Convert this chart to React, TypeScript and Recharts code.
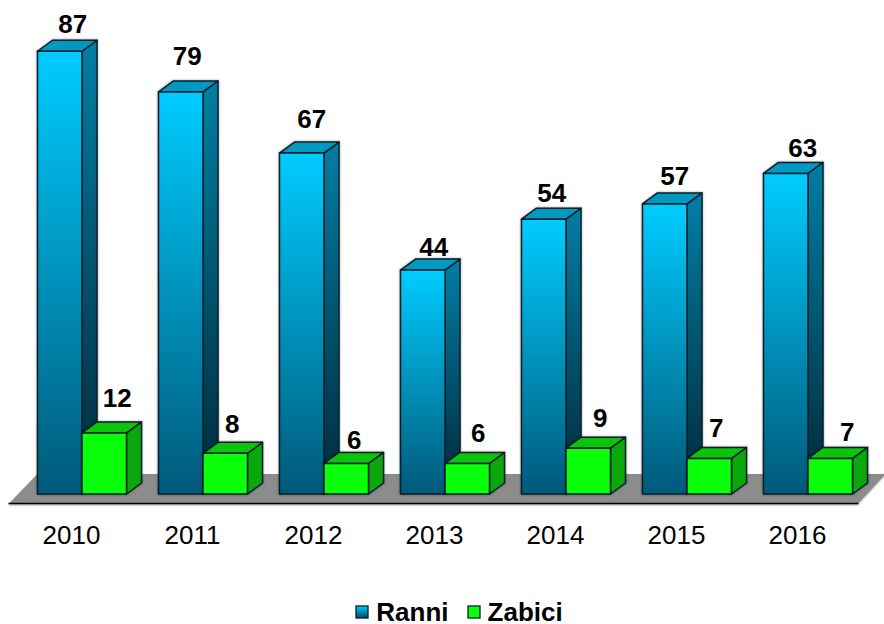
import React from "react";
import { BarChart, Bar, XAxis, YAxis, Legend, LabelList, usePlotArea } from "recharts";

const years = ["2010", "2011", "2012", "2013", "2014", "2015", "2016"];
const ranni = [87, 79, 67, 44, 54, 57, 63];
const zabici = [12, 8, 6, 6, 9, 7, 7];

// Hand-placed label nudges seen in the reference (from bar centre / bar top)
const ranniLabelDx = [13, 6.5, 10, 11, 8, 10, 17];
const ranniLabelDy = [-27, -36, -34, -23, -26, -28, -25];
const zabiciLabelDx = [13, 7, 8, 11, 12, 7, 17];
const zabiciLabelDy = [-35, -29, -23, -30, -30, -30, -26];

const data = years.map((year, i) => ({ year, Ranni: ranni[i], Zabici: zabici[i] }));

const FONT = "'Liberation Sans', Arial, sans-serif";
const DEPTH_X = 15;
const DEPTH_Y = 11;
const EDGE = "#06202a";

const Box = (props: any) => {
  const { x, y, width: w, height: h, front, side, top } = props;
  const d = DEPTH_X;
  const e = DEPTH_Y;
  return (
    <g stroke={EDGE} strokeWidth={1.5} strokeLinejoin="round" style={{ filter: "drop-shadow(0 0 1.2px rgba(0,0,0,0.45))" }}>
      <polygon points={`${x + w},${y} ${x + w + d},${y - e} ${x + w + d},${y + h - e} ${x + w},${y + h}`} fill={side} />
      <polygon points={`${x},${y} ${x + d},${y - e} ${x + w + d},${y - e} ${x + w},${y}`} fill={top} />
      <rect x={x} y={y} width={w} height={h} fill={front} />
    </g>
  );
};

const Floor = () => {
  const p = usePlotArea();
  if (!p) return null;
  const base = p.y + p.height;
  const l = p.x;
  return (
    <g style={{ filter: "drop-shadow(0 1px 1px rgba(0,0,0,0.35))" }}>
      <polygon
        points={`${l - 12},${base + 9} ${l + 16},${base - 20} ${l + 864},${base - 20} ${l + 837},${base + 9}`}
        fill="#8c8c8c"
      />
      <line x1={l - 13} y1={base + 9.5} x2={l + 837} y2={base + 9.5} stroke="#000" strokeWidth={1.5} />
    </g>
  );
};

const makeLabel = (dxs: number[], dys: number[]) => (props: any) => {
  const { x, y, width, value, index } = props;
  return (
    <text
      x={x + width / 2 + dxs[index]}
      y={y + dys[index]}
      textAnchor="middle"
      dominantBaseline="central"
      fontFamily={FONT}
      fontWeight="bold"
      fontSize={26}
      fill="#000"
    >
      {value}
    </text>
  );
};

const YearTick = (props: any) => (
  <text x={props.x - 10.5} y={535} textAnchor="middle" dominantBaseline="central" fontFamily={FONT} fontSize={26} fill="#000">
    {props.payload.value}
  </text>
);

const legendItems = [
  { name: "Ranni", fill: "url(#legendBlue)" },
  { name: "Zabici", fill: "#0aff0a" },
];

const LegendContent = () => (
  <div
    style={{
      display: "flex",
      justifyContent: "center",
      alignItems: "center",
      gap: 18,
      fontFamily: FONT,
      fontWeight: "bold",
      fontSize: 26,
      color: "#000",
      height: 24,
      lineHeight: "24px",
      paddingLeft: 34,
      boxSizing: "border-box",
      width: 884,
    }}
  >
    {legendItems.map((it) => (
      <span key={it.name} style={{ display: "inline-flex", alignItems: "center", gap: 7 }}>
        <svg width={14} height={14} style={{ display: "block" }}>
          <rect x={1} y={1} width={12} height={12} fill={it.fill} stroke="#06202a" strokeWidth={1.3} />
        </svg>
        {it.name}
      </span>
    ))}
  </div>
);

export default function App() {
  return (
    <div style={{ position: "absolute", left: 0, top: 0, width: 884, height: 624 }}>
      <BarChart
        width={884}
        height={624}
        data={data}
        margin={{ top: 36, right: 15.5, bottom: 46, left: 21.5 }}
        barSize={44.5}
        barGap={0}
      >
        <defs>
          <linearGradient id="blueFront" x1="0" y1="0" x2="0" y2="1">
            <stop offset="0" stopColor="#00ccff" />
            <stop offset="1" stopColor="#00597a" />
          </linearGradient>
          <linearGradient id="blueSide" x1="0" y1="0" x2="0" y2="1">
            <stop offset="0" stopColor="#007ea3" />
            <stop offset="1" stopColor="#00293a" />
          </linearGradient>
          <linearGradient id="legendBlue" x1="0" y1="0" x2="0" y2="1">
            <stop offset="0" stopColor="#00ccff" />
            <stop offset="1" stopColor="#004a66" />
          </linearGradient>
        </defs>
        <Floor />
        <XAxis
          dataKey="year"
          height={60}
          axisLine={false}
          tickLine={false}
          tick={<YearTick />}
          interval={0}
        />
        <YAxis hide domain={[0, 90]} />
        <Legend verticalAlign="bottom" content={<LegendContent />} wrapperStyle={{ left: 0, width: 884, top: 600, bottom: "auto", height: 24 }} />
        <Bar
          dataKey="Ranni"
          isAnimationActive={false}
          fill="#00ccff"
          shape={(p: any) => <Box {...p} front="url(#blueFront)" side="url(#blueSide)" top="#0099c2" />}
        >
          <LabelList dataKey="Ranni" content={makeLabel(ranniLabelDx, ranniLabelDy)} />
        </Bar>
        <Bar
          dataKey="Zabici"
          isAnimationActive={false}
          fill="#0aff0a"
          shape={(p: any) => <Box {...p} front="#0aff0a" side="#0aa80a" top="#0cc40c" />}
        >
          <LabelList dataKey="Zabici" content={makeLabel(zabiciLabelDx, zabiciLabelDy)} />
        </Bar>
      </BarChart>
    </div>
  );
}
